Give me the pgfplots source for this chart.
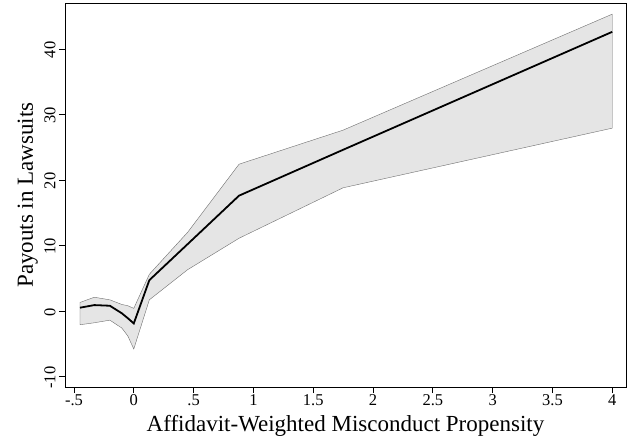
\documentclass[border=0pt]{standalone}
\usepackage{fontspec}
\setmainfont{Liberation Serif}
\usepackage{pgfplots}
\pgfplotsset{compat=1.18}
\definecolor{bandfill}{HTML}{E5E5E5}
\definecolor{bandline}{HTML}{6E6E6E}
\begin{document}
\begin{tikzpicture}
\useasboundingbox (-65bp,-52bp) rectangle (569bp,387bp);
\begin{axis}[
  at={(0,0)}, anchor=south west,
  scale only axis, width=561bp, height=384bp,
  xmin=-0.575, xmax=4.115, ymin=-11.6, ymax=47.0,
  axis line style={line width=0.9pt},
  tick align=outside, tick style={line width=0.7pt, black},
  major tick length=6bp,
  /pgf/number format/assume math mode=true,
  xtick={-0.5,0,0.5,1,1.5,2,2.5,3,3.5,4},
  xticklabels={-.5,0,.5,1,1.5,2,2.5,3,3.5,4},
  ytick={-10,0,10,20,30,40},
  yticklabels={-10,0,10,20,30,40},
  xtick pos=bottom, ytick pos=left,
  ticklabel style={font=\fontsize{16.5bp}{16.5bp}\selectfont},
  xticklabel style={anchor=north, yshift=2bp},
  yticklabel style={rotate=90, anchor=south, xshift=-1bp},
  xlabel={Affidavit-Weighted Misconduct Propensity},
  ylabel={Payouts in Lawsuits},
  label style={font=\fontsize{23bp}{23bp}\selectfont},
  xlabel style={at={([yshift=-44bp]axis description cs:0.5,0)}, anchor=base},
  ylabel style={at={([xshift=-32bp]axis description cs:0,0.5)}, anchor=base, rotate=0},
  clip=false,
]
\addplot[fill=bandfill, draw=bandline, line width=0.4pt] coordinates {
  (-0.45,1.3) (-0.33,2.1) (-0.2,1.7) (-0.1,1.0) (-0.05,0.8) (0,0.4) (0.13,5.6)
  (0.45,12.0) (0.88,22.4) (1.75,27.6) (4.0,45.3)
  (4.0,27.9) (1.75,18.8) (0.88,11.1) (0.45,6.3) (0.13,1.7) (0,-5.8) (-0.05,-3.8)
  (-0.1,-2.6) (-0.2,-1.4) (-0.33,-1.8) (-0.45,-2.1)
} -- cycle;
\addplot[black, line width=1.8pt] coordinates {
  (-0.45,0.5) (-0.33,0.9) (-0.2,0.8) (-0.1,-0.35) (-0.05,-1.1) (0,-1.9) (0.13,4.7)
  (0.45,10.2) (0.88,17.6) (1.75,24.6) (4.0,42.6)
};
\end{axis}
\end{tikzpicture}
\end{document}
